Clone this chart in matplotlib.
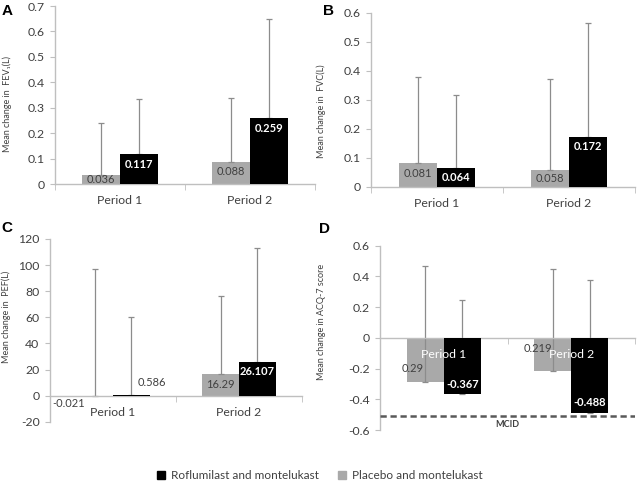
import matplotlib.pyplot as plt
import numpy as np
from matplotlib.patches import Patch
from matplotlib.ticker import MultipleLocator, FuncFormatter

plt.rcParams['font.family'] = ['Lato', 'DejaVu Sans']
plt.rcParams['axes.unicode_minus'] = False

periods = ["Period 1", "Period 2"]

# A: FEV1
fev_placebo = [0.036, 0.088]
fev_roflu = [0.117, 0.259]
fev_placebo_sd = [0.204, 0.249]
fev_roflu_sd = [0.216, 0.389]

# B: FVC
fvc_placebo = [0.081, 0.058]
fvc_roflu = [0.064, 0.172]
fvc_placebo_sd = [0.298, 0.312]
fvc_roflu_sd = [0.253, 0.393]

# C: PEF
pef_placebo = [-0.021, 16.29]
pef_roflu = [0.586, 26.107]
pef_placebo_sd = [96.7, 60.0]
pef_roflu_sd = [59.7, 87.2]

# D: ACQ-7
acq_placebo = [-0.29, -0.219]
acq_roflu = [-0.367, -0.488]
acq_placebo_sd = [0.76, 0.669]
acq_roflu_sd = [0.612, 0.863]
acq_placebo_text = ["0.29", "0.219"]  # printed without the minus sign in the original
mcid = -0.508

GRAY = '#a9a9a9'
BLACK = '#000000'
AXIS = '#bfbfbf'
TEXT = '#404040'
ERR = '#8c8c8c'
W = 0.29


def fmt_tick(v, pos):
    return f"{v:g}" if abs(v) > 1e-9 else "0"


def put_labels(ax, xs, vals, texts, color, weight, moved):
    ppu = ax.transData.transform((0, 1))[1] - ax.transData.transform((0, 0))[1]
    off = 10 / ppu
    for i, (x, v, t) in enumerate(zip(xs, vals, texts)):
        if i in moved:
            dx, y = moved[i]
            ax.text(x + dx, y, t, ha='center', va='center', color=TEXT,
                    fontsize=8, zorder=6)
            continue
        if abs(v) < 2 * off:
            y = v / 2
        else:
            y = v - np.sign(v) * off
        ax.text(x, y, t, ha='center', va='center', color=color,
                fontsize=8, fontweight=weight, zorder=6)


def panel(ax, placebo, roflu, p_sd, r_sd, ylim, step, ylabel,
          p_text=None, p_moved=None, r_moved=None, tick_color=TEXT):
    x = np.arange(len(periods))
    xp = x - W / 2
    xr = x + W / 2
    ax.bar(xp, placebo, W, color=GRAY, zorder=1)
    ax.errorbar(xp, placebo, yerr=[np.zeros(2), p_sd], fmt='none', ecolor=ERR,
                elinewidth=0.9, capsize=2.5, capthick=0.9, zorder=2)
    ax.bar(xr, roflu, W, color=BLACK, zorder=3)
    ax.errorbar(xr, roflu, yerr=[np.zeros(2), r_sd], fmt='none', ecolor=ERR,
                elinewidth=0.9, capsize=2.5, capthick=0.9, zorder=2)

    ax.set_xlim(-0.5, 1.5)
    ax.set_ylim(*ylim)
    ax.yaxis.set_major_locator(MultipleLocator(step))
    ax.yaxis.set_major_formatter(FuncFormatter(fmt_tick))
    ax.set_xticks(x)
    ax.set_xticklabels(periods)
    ax.set_xticks([-0.5, 0.5, 1.5], minor=True)
    ax.tick_params(axis='x', which='major', length=0, pad=8, labelsize=8.8,
                   labelcolor=tick_color)
    ax.tick_params(axis='x', which='minor', length=4, color=AXIS, direction='out')
    ax.tick_params(axis='y', length=3.5, color=AXIS, pad=4, labelsize=8.8,
                   labelcolor=TEXT)
    for s in ['top', 'right']:
        ax.spines[s].set_visible(False)
    for s in ['left', 'bottom']:
        ax.spines[s].set_color(AXIS)
        ax.spines[s].set_linewidth(1)
    ax.spines['bottom'].set_position(('data', 0))
    ax.xaxis.set_zorder(5)

    if p_text is None:
        p_text = [f"{v:g}" for v in placebo]
    r_text = [f"{v:g}" for v in roflu]
    put_labels(ax, xp, placebo, p_text, TEXT, 'normal', p_moved or {})
    put_labels(ax, xr, roflu, r_text, 'white', 'bold', r_moved or {})
    ax.set_ylabel(ylabel, fontsize=6.5, color=TEXT)


fig = plt.figure(figsize=(6.4, 4.83), dpi=100)
axA = fig.add_axes([0.0859, 0.619, 0.406, 0.3685])
axB = fig.add_axes([0.5797, 0.6135, 0.4125, 0.3602])
axC = fig.add_axes([0.0781, 0.1269, 0.3938, 0.3783])
axD = fig.add_axes([0.5938, 0.1097, 0.3984, 0.3816])

panel(axA, fev_placebo, fev_roflu, fev_placebo_sd, fev_roflu_sd, (0, 0.7), 0.1,
      "Mean change in  FEV\u2081(L)")
panel(axB, fvc_placebo, fvc_roflu, fvc_placebo_sd, fvc_roflu_sd, (0, 0.6), 0.1,
      "Mean change in  FVC(L)")
panel(axC, pef_placebo, pef_roflu, pef_placebo_sd, pef_roflu_sd, (-20, 120), 20,
      "Mean change in  PEF(L)",
      p_moved={0: (-0.21, -6)}, r_moved={0: (0.165, 10)})
panel(axD, acq_placebo, acq_roflu, acq_placebo_sd, acq_roflu_sd, (-0.6, 0.6), 0.2,
      "Mean change in ACQ-7 score", p_text=acq_placebo_text,
      p_moved={0: (-0.096, -0.2), 1: (-0.116, -0.07)}, tick_color='white')

axD.axhline(mcid, color='#595959', lw=1.8, ls=(0, (2.5, 1.5)), zorder=4)
axD.text(0.5, mcid - 0.057, "MCID", ha='center', va='center', fontsize=6.5,
         fontweight='bold', color=TEXT)

# y-label positions (figure coords)
axA.yaxis.set_label_coords(12 / 640, 1 - 104 / 483, transform=fig.transFigure)
axB.yaxis.set_label_coords(326 / 640, 1 - 111 / 483, transform=fig.transFigure)
axC.yaxis.set_label_coords(11 / 640, 1 - 317 / 483, transform=fig.transFigure)
axD.yaxis.set_label_coords(326 / 640, 1 - 322 / 483, transform=fig.transFigure)

for letter, (lx, ly) in zip("ABCD", [(7, 11), (328, 11), (7, 228), (324, 229)]):
    fig.text(lx / 640, 1 - ly / 483, letter, ha='center', va='center',
             fontsize=11, fontweight='bold', family='Liberation Sans')

handles = [Patch(color=BLACK, label="Roflumilast and montelukast"),
           Patch(color=GRAY, label="Placebo and montelukast")]
fig.legend(handles=handles, loc='center', bbox_to_anchor=(0.5, 0.016), ncol=2,
           frameon=False, fontsize=8.5, handlelength=0.7, handleheight=0.7,
           handletextpad=0.5, columnspacing=1.6, labelcolor=TEXT)

fig.savefig("out.png", dpi=100)
